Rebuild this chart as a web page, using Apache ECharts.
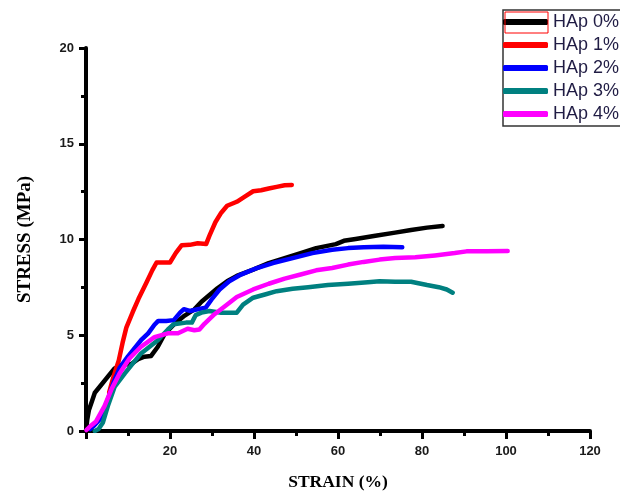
<!DOCTYPE html>
<html>
<head>
<meta charset="utf-8">
<script src="https://cdn.jsdelivr.net/npm/echarts@6/dist/echarts.min.js"></script>
<style>html,body{margin:0;padding:0;background:#fff;}#c{width:620px;height:496px;}</style>
</head>
<body>
<div id="c"></div>
<script>
const seriesNames = ['HAp 0%', 'HAp 1%', 'HAp 2%', 'HAp 3%', 'HAp 4%'];
const seriesColors = ['#000000', '#ff0000', '#0000ff', '#008080', '#ff00ff'];
const xTicks = [0, 20, 40, 60, 80, 100, 120];
const yTicks = [0, 5, 10, 15, 20];

const hap0 = [[0,0],[0.3,0.6],[0.7,1.1],[1.5,1.6],[2.1,2.0],[3.6,2.4],[5.2,2.84],[6.8,3.27],[8.4,3.45],[10.8,3.5],[12.4,3.75],[13.9,3.88],[15.5,3.92],[17.1,4.4],[18.7,5.05],[21.1,5.6],[23.5,6.03],[25.8,6.35],[27.5,6.75],[29.4,7.1],[31.3,7.45],[33.6,7.82],[35.9,8.1],[39.8,8.43],[43.5,8.77],[47.3,9.03],[51.1,9.29],[54.8,9.55],[59.5,9.76],[61.4,9.93],[64.2,10.03],[68.9,10.2],[73.6,10.36],[77.4,10.5],[81.2,10.62],[84.9,10.7]];
const hap1 = [[5.5,2.0],[6.5,2.8],[7.8,3.68],[8.7,4.6],[9.6,5.4],[11.1,6.2],[12.5,6.9],[14.4,7.75],[15.8,8.4],[16.8,8.8],[18.1,8.8],[20,8.8],[21.4,9.3],[22.8,9.7],[24.7,9.72],[26.6,9.8],[28.6,9.76],[29.4,10.2],[30.8,10.9],[32.2,11.4],[33.6,11.76],[35.9,11.97],[37.9,12.25],[39.8,12.52],[41.7,12.57],[43.5,12.66],[45.4,12.75],[47.3,12.83],[49,12.85]];
const hap2 = [[1.0,0.1],[2.0,0.3],[3.5,0.65],[5,1.5],[6.5,2.5],[8,3.3],[10,3.9],[13.1,4.74],[14.8,5.1],[16.3,5.55],[17.2,5.75],[19.1,5.75],[20.9,5.79],[22.4,6.18],[23.3,6.36],[24.7,6.27],[26.6,6.36],[28.5,6.44],[29.9,6.87],[31.8,7.39],[34.1,7.82],[36.9,8.17],[40.7,8.51],[44.5,8.77],[49.2,9.03],[53.9,9.29],[58.6,9.46],[62.4,9.55],[66.1,9.6],[70.8,9.62],[75.3,9.6]];
const hap3 = [[2.1,0],[3,0.1],[4,0.43],[5.2,1.3],[6.8,2.3],[9.2,3.0],[13.1,4.05],[17.1,4.74],[19.5,5.3],[20.9,5.58],[23.8,5.66],[25.2,5.66],[26.1,6.05],[27.5,6.18],[29.4,6.27],[32.2,6.18],[35.9,6.18],[37.4,6.6],[39.8,6.96],[42.6,7.13],[45.4,7.3],[49.2,7.43],[52.9,7.51],[57.6,7.62],[62.4,7.69],[67.1,7.77],[69.9,7.82],[73.6,7.79],[77.4,7.79],[81.2,7.62],[84,7.51],[85.9,7.39],[87.3,7.22]];
const hap4 = [[0.1,0.05],[1,0.25],[2.4,0.5],[4.4,1.3],[6,2.15],[8,3.0],[10.4,3.8],[13.1,4.4],[16.3,4.9],[19.5,5.1],[21.9,5.1],[24.2,5.34],[25.8,5.26],[27,5.3],[28.2,5.6],[30.6,6.1],[33,6.5],[35.9,7.0],[39.8,7.39],[43.5,7.69],[47.3,7.96],[51.1,8.17],[54.8,8.39],[58.6,8.51],[62.4,8.69],[66.1,8.83],[69.9,8.95],[73.6,9.03],[78.4,9.07],[83.1,9.17],[87.8,9.29],[90.6,9.38],[95.3,9.38],[100.4,9.4]];

const allData = [hap0, hap1, hap2, hap3, hap4];

const chart = echarts.init(document.getElementById('c'), null, {renderer: 'canvas'});
const labelFont = {fontFamily: 'Liberation Sans, Arial, sans-serif', fontWeight: 'bold', fontSize: 13, color: '#1a1a1a'};
const titleFont = {fontFamily: 'Liberation Serif, Times New Roman, serif', fontWeight: 'bold', color: '#000'};

chart.setOption({
  animation: false,
  backgroundColor: '#fff',
  grid: {left: 86, right: 30, top: 48, bottom: 61, containLabel: false},
  xAxis: {
    type: 'value', min: xTicks[0], max: xTicks[xTicks.length - 1], interval: 20,
    name: 'STRAIN (%)', nameLocation: 'middle', nameGap: 42,
    nameTextStyle: Object.assign({fontSize: 17.5}, titleFont),
    axisLine: {show: true, onZero: false, lineStyle: {color: '#000', width: 4}},
    axisTick: {show: true, inside: false, length: 8, lineStyle: {color: '#000', width: 3}},
    minorTick: {show: true, splitNumber: 2, length: 5, lineStyle: {color: '#000', width: 3}},
    splitLine: {show: false},
    axisLabel: Object.assign({margin: 14, formatter: v => (v === 0 ? '' : String(v))}, labelFont)
  },
  yAxis: {
    type: 'value', min: yTicks[0], max: yTicks[yTicks.length - 1], interval: 5,
    name: 'STRESS (MPa)', nameLocation: 'middle', nameGap: 51,
    nameTextStyle: Object.assign({fontSize: 19}, titleFont),
    axisLine: {show: true, onZero: false, lineStyle: {color: '#000', width: 4}},
    axisTick: {show: true, inside: false, length: 7, lineStyle: {color: '#000', width: 3}},
    minorTick: {show: true, splitNumber: 2, length: 5, lineStyle: {color: '#000', width: 3}},
    splitLine: {show: false},
    axisLabel: Object.assign({margin: 12}, labelFont)
  },
  legend: {
    orient: 'vertical', left: 503, top: 10,
    padding: [3, 0, 4, 0], itemGap: 5, itemWidth: 45, itemHeight: 6,
    icon: 'roundRect',
    borderWidth: 0,
    textStyle: {fontFamily: 'Liberation Sans, Arial, sans-serif', fontSize: 18, color: '#201c44', lineHeight: 17},
    data: seriesNames
  },
  graphic: [{
    type: 'rect', z: -1, silent: true,
    shape: {x: 503, y: 10, width: 200, height: 116},
    style: {fill: '#fff', stroke: '#333', lineWidth: 1.5}
  }, {
    type: 'rect', z: 100, silent: true,
    shape: {x: 505, y: 12, width: 43, height: 21},
    style: {fill: 'none', stroke: '#ff0000', lineWidth: 1}
  }],
  series: allData.map((d, i) => ({
    name: seriesNames[i], type: 'line', data: d,
    showSymbol: false, symbol: 'none', smooth: false,
    color: seriesColors[i],
    lineStyle: {color: seriesColors[i], width: 4.5, cap: 'round', join: 'round'},
    z: 2 + i
  }))
});
</script>
</body>
</html>
